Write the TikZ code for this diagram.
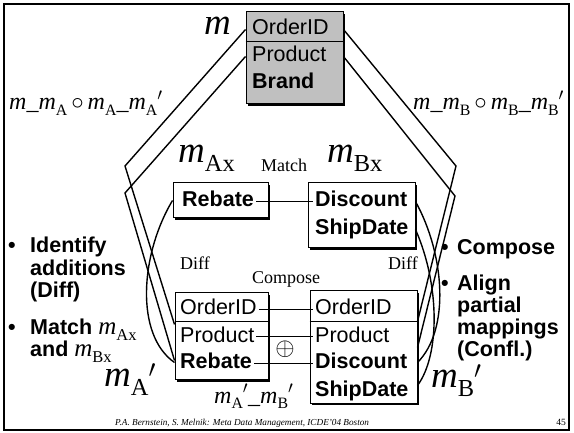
\documentclass[tikz,border=0pt]{standalone}
\usepackage{fontspec}
\setmainfont{Liberation Serif}
\newfontfamily\arial{Liberation Sans}
\usetikzlibrary{calc,shadows}
\makeatletter
% upright, lowered subscript scaled from the current size
\newcommand{\lo}[1]{\raisebox{-0.22em}{\fontsize{\dimexpr\f@size pt*66/100\relax}{0pt}\selectfont\upshape #1}}
\makeatother
\newcommand{\emm}{\textit{m}}
\newcommand{\pr}{\ensuremath{{}^{\prime}}}
\definecolor{schemagray}{RGB}{192,192,192}

\begin{document}
\begin{tikzpicture}[x=1pt,y=-1pt,
  box/.style={draw, line width=1pt, fill=white, inner sep=0pt,
    drop shadow={shadow xshift=1.6pt, shadow yshift=-1.6pt, fill=black, opacity=1}},
  fld/.style={font=\arial\fontsize{21.5}{24}\selectfont, anchor=base west,
    inner xsep=2pt, inner ysep=0pt, text height=15.5pt, text depth=4.5pt},
  bfld/.style={fld, font=\arial\fontsize{21.5}{24}\selectfont\bfseries},
  lbl/.style={anchor=base west, inner sep=0pt},
  big/.style={lbl, font=\fontsize{37}{40}\selectfont},
  mid/.style={lbl, font=\fontsize{24}{26}\selectfont},
  op/.style={lbl, font=\fontsize{18}{20}\selectfont},
  btxt/.style={lbl, font=\arial\fontsize{21.5}{24}\selectfont\bfseries},
  link/.style={line width=1.7pt},
  map/.style={line width=1.4pt}]
\useasboundingbox (0,0) rectangle (574,433);
\draw[line width=2pt] (4,4) rectangle (569,430);

% schema m
\node[box, fill=schemagray, minimum width=97pt, minimum height=92pt] (mt) at (294.5,58) {};
\draw[line width=0.8pt] ($(mt.north west)+(0,30)$) -- ($(mt.north east)+(0,30)$);
\node[fld] (mord) at (250,35) {OrderID};
\node[fld] (mprod) at (250,62) {Product};
\node[bfld] (mbrand) at (250,89) {Brand};

% extracted parts m_Ax and m_Bx
\node[box, minimum width=95pt, minimum height=35pt] (ax) at (220.5,200.5) {};
\node[bfld] (axreb) at (180,207) {Rebate};
\node[box, minimum width=107pt, minimum height=65pt] (bx) at (361.5,215.5) {};
\node[bfld] (bxdis) at (313,207) {Discount};
\node[bfld] (bxship) at (313,235) {ShipDate};

% schema m_A'
\node[box, minimum width=93pt, minimum height=87pt] (ap) at (221.5,336.5) {};
\draw[line width=0.8pt] ($(ap.north west)+(0,29)$) -- ($(ap.north east)+(0,29)$);
\node[fld] (apord) at (178,315) {OrderID};
\node[fld] (approd) at (178,342) {Product};
\node[bfld] (apreb) at (178,369) {Rebate};

% schema m_B'
\node[box, minimum width=107pt, minimum height=112pt] (bp) at (363.5,347) {};
\draw[line width=0.8pt] ($(bp.north west)+(0,31)$) -- ($(bp.north east)+(0,31)$);
\node[fld] (bpord) at (313,315) {OrderID};
\node[fld] (bpprod) at (313,342) {Product};
\node[bfld] (bpdis) at (313,369) {Discount};
\node[bfld] (bpship) at (313,396) {ShipDate};

% Match and Compose correspondences
\draw[link] (axreb.east) -- (bxdis.west);
\draw[link] (apord.east) -- (bpord.west);
\draw[link] (approd.east) -- (bpprod.west);
\draw[link] (apreb.east) -- (bpdis.west);
\node (plus) at (285,349) {\fontsize{25}{25}\selectfont$\oplus$};

% mapping m -> m_A'
\coordinate (lv1) at (125,166);
\coordinate (lv2) at (125,193);
\draw[map] (mt.west |- mord.east) -- (lv1) -- ($(ap.north west)+(0,32)$);
\draw[map] (mt.west |- mprod.east) -- (lv2) -- ($(ap.north west)+(0,68)$);
\draw[map] (ax.west) .. controls (140,255) and (135,335) .. ($(ap.north west)+(0,70)$);

% mapping m -> m_B'
\coordinate (rv1) at (456,166);
\coordinate (rv2) at (455,196);
\draw[map] (mt.east |- mord.east) -- (rv1) -- ($(bp.north east)+(0,31)$);
\draw[map] (mt.east |- mprod.east) -- (rv2) -- ($(bp.north east)+(0,57)$);
\draw[map] (bx.east |- bxdis.east) .. controls (445,255) and (450,330) .. ($(bp.north east)+(0,72)$);
\draw[map] (bx.east |- bxship.east) .. controls (440,285) and (440,355) .. ($(bp.north east)+(0,95)$);

% labels
\node[big] (lm) at (204,35) {\emm};
\node[big] (lax) at (178,163) {\emm\lo{Ax}};
\node[big] (lbx) at (327,163) {\emm\lo{Bx}};
\node[big] (lap) at (104,387) {\emm\lo{A}\pr};
\node[big] (lbp) at (431,388) {\emm\lo{B}\pr};
\node[mid] (lmA) at (9,110) {\emm\_\emm\lo{A}\,\ensuremath{\circ}\,\emm\lo{A}\_\emm\lo{A}\pr};
\node[mid] (lmB) at (413,110) {\emm\_\emm\lo{B}\,\ensuremath{\circ}\,\emm\lo{B}\_\emm\lo{B}\pr};
\node[mid] (lab) at (214,403) {\emm\lo{A}\pr\_\emm\lo{B}\pr};
\node[op] (tmatch) at (261,172) {Match};
\node[op] (tdiffa) at (180,270) {Diff};
\node[op] (tdiffb) at (388,270) {Diff};
\node[op] (tcomp) at (252,284) {Compose};

% bullet lists
\node[btxt] (b1) at (8,253) {•};
\node[btxt] (t1a) at (30,253) {Identify};
\node[btxt] (t1b) at (30,276) {additions};
\node[btxt] (t1c) at (30,298) {(Diff)};
\node[btxt] (b2) at (8,335) {•};
\node[btxt] (t2a) at (30,335) {Match {\rmfamily\mdseries\fontsize{25}{26}\selectfont\emm\lo{Ax}}};
\node[btxt] (t2b) at (30,357) {and {\rmfamily\mdseries\fontsize{25}{26}\selectfont\emm\lo{Bx}}};
\node[btxt] (b3) at (441,255) {•};
\node[btxt] (t3) at (457,255) {Compose};
\node[btxt] (b4) at (441,291) {•};
\node[btxt] (t4a) at (457,291) {Align};
\node[btxt] (t4b) at (457,313) {partial};
\node[btxt] (t4c) at (457,335) {mappings};
\node[btxt] (t4d) at (457,356) {(Confl.)};

% footer
\node[lbl, font=\itshape\fontsize{9.2}{10}\selectfont] (foot) at (115,425)
  {P.A. Bernstein, S. Melnik: Meta Data Management, ICDE'04 Boston};
\node[lbl, anchor=base east, font=\fontsize{9.5}{10}\selectfont] (pg) at (566,425) {45};
\end{tikzpicture}
\end{document}
